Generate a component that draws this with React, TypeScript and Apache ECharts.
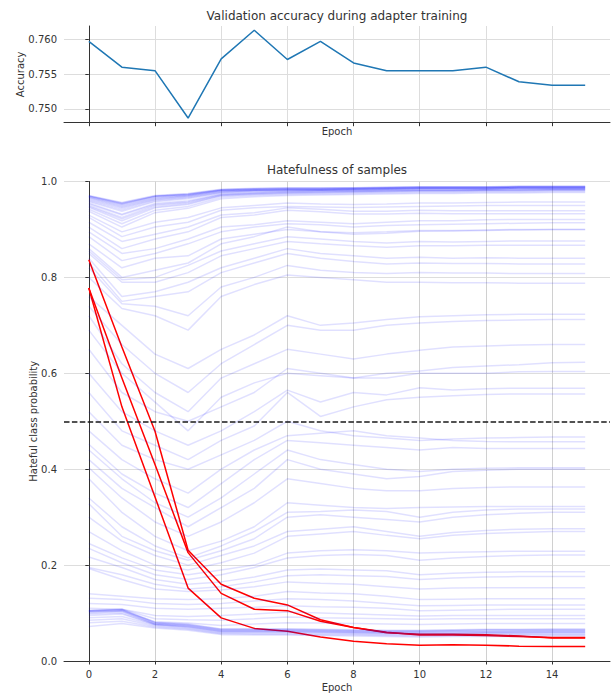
import React, { useEffect, useRef } from "react";
import * as echarts from "echarts";

const epochs = [0, 1, 2, 3, 4, 5, 6, 7, 8, 9, 10, 11, 12, 13, 14, 15];
const evenTicks = [0, 2, 4, 6, 8, 10, 12, 14];
const accTicks = [0.75, 0.755, 0.76];

const accuracy = [0.7597, 0.756, 0.7555, 0.7487, 0.7572, 0.7613, 0.7571, 0.7597, 0.7566, 0.7555, 0.7555, 0.7555, 0.756, 0.7539, 0.7534, 0.7534];

const redSamples = [
  [0.837, 0.655, 0.479, 0.231, 0.16, 0.131, 0.117, 0.086, 0.07, 0.06, 0.054, 0.054, 0.053, 0.051, 0.049, 0.049],
  [0.778, 0.59, 0.41, 0.226, 0.141, 0.108, 0.105, 0.083, 0.07, 0.059, 0.056, 0.056, 0.055, 0.052, 0.048, 0.048],
  [0.778, 0.53, 0.342, 0.152, 0.09, 0.068, 0.062, 0.05, 0.041, 0.036, 0.033, 0.034, 0.033, 0.031, 0.03, 0.03],
];

const topCluster = [
  [0.971, 0.956, 0.971, 0.975, 0.984, 0.986, 0.987, 0.987, 0.987, 0.988, 0.989, 0.989, 0.989, 0.99, 0.99, 0.99],
  [0.97, 0.955, 0.97, 0.974, 0.983, 0.985, 0.986, 0.986, 0.986, 0.987, 0.988, 0.988, 0.988, 0.989, 0.989, 0.989],
  [0.97, 0.954, 0.969, 0.973, 0.983, 0.985, 0.986, 0.986, 0.987, 0.988, 0.989, 0.989, 0.989, 0.99, 0.99, 0.99],
  [0.969, 0.953, 0.969, 0.973, 0.982, 0.984, 0.985, 0.985, 0.986, 0.987, 0.988, 0.988, 0.988, 0.989, 0.989, 0.989],
  [0.968, 0.952, 0.968, 0.972, 0.981, 0.983, 0.984, 0.984, 0.985, 0.986, 0.987, 0.987, 0.987, 0.988, 0.988, 0.988],
  [0.967, 0.95, 0.966, 0.971, 0.981, 0.983, 0.984, 0.984, 0.985, 0.986, 0.987, 0.987, 0.987, 0.988, 0.988, 0.988],
  [0.966, 0.948, 0.965, 0.97, 0.98, 0.982, 0.983, 0.983, 0.984, 0.985, 0.986, 0.986, 0.986, 0.987, 0.987, 0.987],
  [0.964, 0.946, 0.963, 0.969, 0.979, 0.982, 0.983, 0.983, 0.984, 0.985, 0.986, 0.986, 0.986, 0.987, 0.987, 0.987],
  [0.962, 0.944, 0.962, 0.967, 0.978, 0.981, 0.982, 0.982, 0.983, 0.984, 0.985, 0.985, 0.985, 0.986, 0.986, 0.986],
  [0.96, 0.941, 0.96, 0.966, 0.977, 0.98, 0.981, 0.982, 0.983, 0.984, 0.985, 0.985, 0.985, 0.986, 0.986, 0.986],
  [0.958, 0.938, 0.958, 0.964, 0.976, 0.979, 0.98, 0.981, 0.982, 0.983, 0.984, 0.984, 0.984, 0.985, 0.985, 0.985],
  [0.955, 0.932, 0.954, 0.96, 0.974, 0.977, 0.979, 0.98, 0.98, 0.981, 0.982, 0.982, 0.983, 0.984, 0.984, 0.984],
  [0.953, 0.93, 0.952, 0.958, 0.973, 0.976, 0.978, 0.979, 0.98, 0.981, 0.982, 0.982, 0.983, 0.983, 0.984, 0.984],
  [0.95, 0.925, 0.95, 0.956, 0.972, 0.975, 0.977, 0.978, 0.979, 0.98, 0.981, 0.981, 0.982, 0.982, 0.983, 0.983],
  [0.948, 0.922, 0.947, 0.954, 0.971, 0.974, 0.976, 0.977, 0.978, 0.979, 0.98, 0.98, 0.981, 0.981, 0.982, 0.982],
  [0.946, 0.918, 0.945, 0.952, 0.97, 0.973, 0.975, 0.976, 0.977, 0.978, 0.979, 0.979, 0.98, 0.98, 0.981, 0.981],
  [0.942, 0.912, 0.94, 0.948, 0.967, 0.971, 0.973, 0.974, 0.975, 0.976, 0.977, 0.977, 0.978, 0.978, 0.979, 0.979],
  [0.938, 0.905, 0.935, 0.944, 0.964, 0.968, 0.971, 0.972, 0.973, 0.974, 0.975, 0.975, 0.976, 0.976, 0.977, 0.977],
];

const upperGroup = [
  [0.93, 0.895, 0.915, 0.925, 0.945, 0.95, 0.955, 0.953, 0.952, 0.953, 0.955, 0.955, 0.956, 0.957, 0.957, 0.957],
  [0.925, 0.885, 0.905, 0.915, 0.94, 0.945, 0.948, 0.947, 0.946, 0.947, 0.948, 0.949, 0.95, 0.95, 0.95, 0.95],
  [0.915, 0.875, 0.89, 0.905, 0.93, 0.935, 0.945, 0.942, 0.938, 0.938, 0.94, 0.939, 0.939, 0.939, 0.939, 0.939],
  [0.905, 0.86, 0.88, 0.895, 0.925, 0.93, 0.94, 0.937, 0.932, 0.932, 0.934, 0.933, 0.933, 0.933, 0.933, 0.933],
  [0.895, 0.85, 0.86, 0.88, 0.905, 0.91, 0.918, 0.915, 0.912, 0.915, 0.918, 0.918, 0.92, 0.921, 0.921, 0.921],
  [0.885, 0.835, 0.85, 0.87, 0.895, 0.905, 0.912, 0.91, 0.905, 0.908, 0.91, 0.911, 0.912, 0.913, 0.914, 0.914],
  [0.87, 0.82, 0.84, 0.845, 0.88, 0.89, 0.9, 0.895, 0.893, 0.895, 0.898, 0.898, 0.899, 0.9, 0.9, 0.9],
  [0.86, 0.8, 0.815, 0.83, 0.87, 0.885, 0.905, 0.895, 0.89, 0.892, 0.896, 0.897, 0.898, 0.899, 0.9, 0.9],
];

const highMidGroup = [
  [0.855, 0.795, 0.8, 0.825, 0.855, 0.87, 0.885, 0.88, 0.875, 0.872, 0.875, 0.874, 0.875, 0.876, 0.876, 0.876],
  [0.85, 0.79, 0.79, 0.81, 0.845, 0.86, 0.875, 0.87, 0.866, 0.863, 0.866, 0.866, 0.867, 0.867, 0.867, 0.867],
  [0.84, 0.76, 0.77, 0.79, 0.82, 0.84, 0.86, 0.85, 0.845, 0.84, 0.842, 0.84, 0.841, 0.84, 0.84, 0.84],
  [0.83, 0.75, 0.76, 0.77, 0.81, 0.83, 0.85, 0.84, 0.833, 0.828, 0.83, 0.829, 0.829, 0.828, 0.828, 0.828],
  [0.82, 0.745, 0.74, 0.72, 0.78, 0.8, 0.825, 0.815, 0.81, 0.808, 0.81, 0.809, 0.809, 0.808, 0.808, 0.808],
  [0.8, 0.735, 0.72, 0.69, 0.76, 0.785, 0.805, 0.8, 0.795, 0.79, 0.79, 0.789, 0.789, 0.788, 0.788, 0.788],
];

const midGroup = [
  [0.76, 0.7, 0.64, 0.61, 0.65, 0.68, 0.72, 0.7, 0.705, 0.712, 0.718, 0.72, 0.722, 0.723, 0.723, 0.723],
  [0.74, 0.66, 0.6, 0.56, 0.62, 0.66, 0.7, 0.69, 0.69, 0.7, 0.705, 0.708, 0.71, 0.711, 0.712, 0.712],
  [0.72, 0.62, 0.56, 0.52, 0.59, 0.62, 0.65, 0.64, 0.63, 0.64, 0.648, 0.655, 0.657, 0.659, 0.66, 0.66],
  [0.69, 0.6, 0.54, 0.48, 0.55, 0.58, 0.6, 0.595, 0.59, 0.6, 0.605, 0.612, 0.615, 0.618, 0.622, 0.623],
  [0.65, 0.56, 0.52, 0.5, 0.53, 0.56, 0.61, 0.6, 0.59, 0.59, 0.6, 0.6, 0.6, 0.603, 0.604, 0.604],
  [0.6, 0.52, 0.48, 0.45, 0.48, 0.52, 0.565, 0.54, 0.56, 0.555, 0.57, 0.565, 0.568, 0.569, 0.569, 0.569],
  [0.56, 0.48, 0.45, 0.42, 0.46, 0.49, 0.56, 0.51, 0.53, 0.545, 0.55, 0.553, 0.556, 0.557, 0.557, 0.557],
  [0.52, 0.45, 0.42, 0.4, 0.43, 0.46, 0.5, 0.48, 0.47, 0.465, 0.46, 0.463, 0.465, 0.466, 0.467, 0.467],
  [0.48, 0.42, 0.38, 0.35, 0.4, 0.44, 0.47, 0.475, 0.48, 0.47, 0.465, 0.46, 0.458, 0.457, 0.457, 0.457],
  [0.452, 0.39, 0.35, 0.32, 0.37, 0.42, 0.46, 0.455, 0.45, 0.445, 0.44, 0.445, 0.443, 0.443, 0.443, 0.443],
  [0.44, 0.38, 0.33, 0.3, 0.34, 0.39, 0.44, 0.42, 0.41, 0.4, 0.395, 0.4, 0.402, 0.403, 0.403, 0.403],
  [0.42, 0.36, 0.32, 0.28, 0.32, 0.36, 0.42, 0.4, 0.39, 0.38, 0.385, 0.395, 0.398, 0.4, 0.4, 0.4],
];

const lowGroup = [
  [0.403, 0.34, 0.29, 0.26, 0.29, 0.33, 0.38, 0.37, 0.36, 0.355, 0.355, 0.36, 0.362, 0.363, 0.363, 0.363],
  [0.38, 0.31, 0.26, 0.23, 0.25, 0.28, 0.33, 0.325, 0.32, 0.318, 0.32, 0.321, 0.322, 0.322, 0.322, 0.322],
  [0.34, 0.28, 0.24, 0.215, 0.24, 0.27, 0.31, 0.312, 0.315, 0.312, 0.3, 0.31, 0.315, 0.317, 0.317, 0.317],
  [0.328, 0.26, 0.23, 0.21, 0.23, 0.255, 0.3, 0.305, 0.3, 0.295, 0.29, 0.3, 0.305, 0.308, 0.31, 0.31],
  [0.3, 0.25, 0.22, 0.2, 0.22, 0.24, 0.27, 0.275, 0.28, 0.27, 0.26, 0.268, 0.272, 0.275, 0.276, 0.276],
  [0.27, 0.23, 0.2, 0.19, 0.205, 0.225, 0.26, 0.265, 0.27, 0.262, 0.255, 0.262, 0.266, 0.268, 0.27, 0.27],
  [0.245, 0.215, 0.19, 0.18, 0.19, 0.2, 0.225, 0.23, 0.232, 0.23, 0.225, 0.227, 0.228, 0.229, 0.229, 0.229],
  [0.235, 0.205, 0.18, 0.17, 0.18, 0.195, 0.215, 0.22, 0.222, 0.22, 0.21, 0.215, 0.218, 0.22, 0.221, 0.221],
  [0.217, 0.195, 0.17, 0.16, 0.165, 0.175, 0.19, 0.192, 0.19, 0.188, 0.18, 0.183, 0.185, 0.186, 0.186, 0.186],
  [0.195, 0.18, 0.16, 0.15, 0.155, 0.165, 0.178, 0.18, 0.178, 0.176, 0.17, 0.173, 0.175, 0.176, 0.176, 0.176],
  [0.193, 0.17, 0.15, 0.145, 0.148, 0.155, 0.165, 0.162, 0.16, 0.155, 0.15, 0.152, 0.153, 0.153, 0.153, 0.153],
];

const bottomCluster = [
  [0.14, 0.135, 0.13, 0.128, 0.13, 0.135, 0.145, 0.142, 0.14, 0.135, 0.128, 0.129, 0.13, 0.13, 0.13, 0.13],
  [0.131, 0.128, 0.12, 0.118, 0.12, 0.125, 0.13, 0.128, 0.125, 0.12, 0.115, 0.116, 0.117, 0.117, 0.117, 0.117],
  [0.12, 0.118, 0.11, 0.108, 0.11, 0.112, 0.115, 0.113, 0.112, 0.11, 0.105, 0.106, 0.107, 0.108, 0.108, 0.108],
  [0.11, 0.108, 0.095, 0.093, 0.095, 0.098, 0.102, 0.1, 0.098, 0.096, 0.094, 0.095, 0.095, 0.095, 0.095, 0.095],
  [0.105, 0.108, 0.088, 0.086, 0.085, 0.088, 0.092, 0.09, 0.089, 0.088, 0.087, 0.088, 0.088, 0.088, 0.088, 0.088],
  [0.103, 0.105, 0.082, 0.079, 0.074, 0.077, 0.08, 0.079, 0.078, 0.077, 0.076, 0.077, 0.078, 0.078, 0.078, 0.078],
  [0.106, 0.108, 0.081, 0.077, 0.067, 0.067, 0.067, 0.066, 0.065, 0.064, 0.064, 0.065, 0.066, 0.066, 0.066, 0.066],
  [0.105, 0.107, 0.08, 0.076, 0.066, 0.066, 0.066, 0.065, 0.064, 0.063, 0.063, 0.064, 0.065, 0.065, 0.066, 0.066],
  [0.104, 0.106, 0.079, 0.075, 0.065, 0.065, 0.065, 0.064, 0.063, 0.062, 0.062, 0.063, 0.064, 0.064, 0.064, 0.064],
  [0.102, 0.104, 0.077, 0.073, 0.063, 0.063, 0.063, 0.062, 0.061, 0.06, 0.06, 0.061, 0.061, 0.062, 0.062, 0.062],
  [0.1, 0.103, 0.078, 0.074, 0.064, 0.064, 0.064, 0.063, 0.062, 0.061, 0.061, 0.062, 0.062, 0.062, 0.063, 0.063],
  [0.098, 0.1, 0.076, 0.071, 0.061, 0.061, 0.061, 0.06, 0.059, 0.058, 0.058, 0.058, 0.059, 0.059, 0.06, 0.06],
  [0.095, 0.098, 0.076, 0.072, 0.062, 0.062, 0.062, 0.061, 0.06, 0.059, 0.058, 0.059, 0.06, 0.06, 0.06, 0.06],
  [0.09, 0.093, 0.075, 0.07, 0.06, 0.06, 0.06, 0.059, 0.058, 0.057, 0.056, 0.057, 0.058, 0.058, 0.058, 0.058],
  [0.085, 0.088, 0.073, 0.068, 0.058, 0.058, 0.058, 0.057, 0.056, 0.055, 0.054, 0.055, 0.056, 0.056, 0.056, 0.056],
  [0.08, 0.083, 0.071, 0.066, 0.057, 0.056, 0.056, 0.055, 0.054, 0.053, 0.052, 0.053, 0.053, 0.054, 0.054, 0.054],
  [0.072, 0.078, 0.069, 0.064, 0.055, 0.054, 0.054, 0.053, 0.052, 0.051, 0.05, 0.051, 0.051, 0.051, 0.052, 0.052],
];

const blueSamples = [...topCluster, ...upperGroup, ...highMidGroup, ...midGroup, ...lowGroup, ...bottomCluster];

const FONT = "DejaVu Sans";
const TEXT = "#333333";
const AXIS = "#333333";
const GRID = "#dddddd";
const GRID_X = "#d0d0d0";

export default function App() {
  const ref = useRef<HTMLDivElement>(null);
  useEffect(() => {
    if (!ref.current) return;
    const chart = echarts.init(ref.current, undefined, { renderer: "svg" });
    const toPts = (vals: number[]) => epochs.map((e, i) => [e, vals[i]]);
    const sampleSeries: any[] = [];
    redSamples.forEach((s) =>
      sampleSeries.push({
        type: "line",
        xAxisIndex: 1,
        yAxisIndex: 1,
        data: toPts(s),
        symbol: "none",
        silent: true,
        lineStyle: { color: "#ff0000", width: 1.5 },
      })
    );
    blueSamples.forEach((s) =>
      sampleSeries.push({
        type: "line",
        xAxisIndex: 1,
        yAxisIndex: 1,
        data: toPts(s),
        symbol: "none",
        silent: true,
        lineStyle: { color: "rgba(0,0,255,0.12)", width: 1.5 },
      })
    );
    sampleSeries[sampleSeries.length - 1].markLine = {
      symbol: "none",
      silent: true,
      label: { show: false },
      data: [{ yAxis: 0.5 }],
      lineStyle: { color: "#1a1a1a", width: 1.5, type: [5.5, 2.4] },
    };

    const common = {
      type: "value",
      nameMoveOverlap: false,
      axisLine: { show: true, lineStyle: { color: AXIS, width: 1 } },
      axisTick: { show: true, length: 3.5, lineStyle: { color: AXIS } },
      nameTextStyle: { fontFamily: FONT, fontSize: 10, color: TEXT },
    };

    chart.setOption({
      animation: false,
      backgroundColor: "#ffffff",
      title: [
        {
          text: "Validation accuracy during adapter training",
          left: 337,
          top: 10,
          textAlign: "center",
          padding: 0,
          textStyle: { fontFamily: FONT, fontSize: 12, fontWeight: "normal", color: TEXT },
        },
        {
          text: "Hatefulness of samples",
          left: 337,
          top: 164,
          textAlign: "center",
          padding: 0,
          textStyle: { fontFamily: FONT, fontSize: 12, fontWeight: "normal", color: TEXT },
        },
      ],
      grid: [
        { left: 64, top: 26, width: 546, height: 96.7 },
        { left: 64, top: 181.5, width: 546, height: 484.5 },
      ],
      xAxis: [
        {
          ...common,
          gridIndex: 0,
          min: -0.75,
          max: 15.75,
          axisTick: { ...common.axisTick, customValues: evenTicks },
          axisLabel: { show: false, customValues: evenTicks },
          splitLine: { show: true, lineStyle: { color: GRID, width: 1 } },
          name: "Epoch",
          nameLocation: "middle",
          nameGap: 4,
        },
        {
          ...common,
          gridIndex: 1,
          min: -0.75,
          max: 15.75,
          axisTick: { ...common.axisTick, customValues: evenTicks },
          axisLabel: { show: true, customValues: evenTicks, margin: 8, fontFamily: FONT, fontSize: 10, color: TEXT },
          splitLine: { show: true, lineStyle: { color: GRID_X, width: 1 } },
          name: "Epoch",
          nameLocation: "middle",
          nameGap: 21,
        },
      ],
      yAxis: [
        {
          ...common,
          gridIndex: 0,
          min: 0.74803,
          max: 0.76191,
          axisTick: { ...common.axisTick, customValues: accTicks },
          axisLabel: {
            show: true,
            customValues: accTicks,
            margin: 7,
            fontFamily: FONT,
            fontSize: 10,
            color: TEXT,
            formatter: (v: number) => v.toFixed(3),
          },
          splitLine: { show: true, lineStyle: { color: GRID, width: 1 } },
          name: "Accuracy",
          nameLocation: "middle",
          nameRotate: 90,
          nameGap: 39,
        },
        {
          ...common,
          gridIndex: 1,
          min: 0,
          max: 1,
          interval: 0.2,
          axisLabel: {
            show: true,
            margin: 7,
            fontFamily: FONT,
            fontSize: 10,
            color: TEXT,
            formatter: (v: number) => v.toFixed(1),
          },
          splitLine: { show: true, lineStyle: { color: GRID, width: 1 } },
          name: "Hateful class probability",
          nameLocation: "middle",
          nameRotate: 90,
          nameGap: 26,
        },
      ],
      series: [
        {
          type: "line",
          xAxisIndex: 0,
          yAxisIndex: 0,
          data: toPts(accuracy),
          symbol: "none",
          silent: true,
          lineStyle: { color: "#1f77b4", width: 1.5 },
        },
        ...sampleSeries,
      ],
    });
    return () => chart.dispose();
  }, []);
  return <div ref={ref} style={{ position: "fixed", left: 0, top: 0, width: 611, height: 697 }} />;
}
